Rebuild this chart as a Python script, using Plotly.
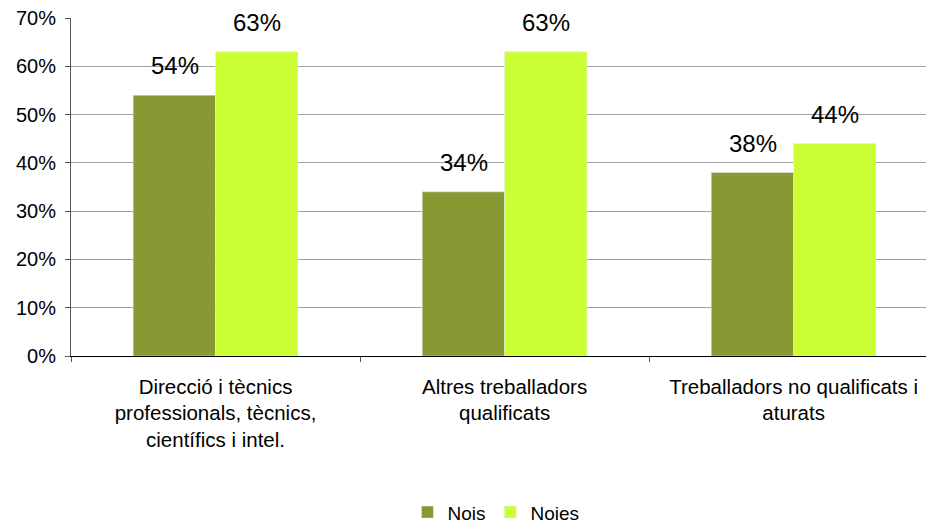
import plotly.graph_objects as go

categories = ["Direcció i tècnics<br>professionals, tècnics,<br>científics i intel.",
              "Altres treballadors<br>qualificats",
              "Treballadors no qualificats i<br>aturats"]
nois = [0.54, 0.34, 0.38]
noies = [0.63, 0.63, 0.44]
tick_vals = [0, 0.1, 0.2, 0.3, 0.4, 0.5, 0.6, 0.7]
tick_text = ["0%", "10%", "20%", "30%", "40%", "50%", "60%", "70%"]

FONT = "Liberation Sans, Arial, sans-serif"
BAR_PX = 82  # approximate bar width in pixels, used for label offsets

fig = go.Figure()
fig.add_bar(x=categories, y=nois, name="Nois", marker_color="#889933")
fig.add_bar(x=categories, y=noies, name="Noies", marker_color="#CCFF33")

for series, sign in ((nois, -1), (noies, 1)):
    for c, v in zip(categories, series):
        fig.add_annotation(x=c, y=v, xref="x", yref="y", text=f"{round(v*100)}%",
                           showarrow=False, yanchor="bottom", xanchor="center",
                           xshift=sign * BAR_PX / 2, yshift=14,
                           font=dict(size=24, color="#000000", family=FONT))

fig.update_layout(
    width=926, height=527,
    margin=dict(l=71, r=0, t=18, b=171),
    paper_bgcolor="white", plot_bgcolor="white",
    barmode="group", bargap=0.43, bargroupgap=0,
    font=dict(family=FONT, color="#000000", size=19),
    showlegend=True,
    legend=dict(orientation="h", x=0.497, xanchor="center",
                yref="container", y=0.028, yanchor="middle",
                font=dict(size=19), traceorder="normal", itemwidth=30),
)
fig.update_xaxes(range=[-0.5, 2.458], showline=True, linecolor="#000000", linewidth=1,
                 ticks="outside", tickson="boundaries", ticklen=5, tickcolor="#555555",
                 tickfont=dict(size=20.5), showgrid=False, automargin=False,
                 ticklabelstandoff=12)
fig.update_yaxes(range=[0, 0.7], tickvals=tick_vals, ticktext=tick_text,
                 showline=True, linecolor="#555555", linewidth=1,
                 ticks="outside", ticklen=5, tickcolor="#555555",
                 gridcolor="#a0a0a0", gridwidth=1, tickfont=dict(size=20),
                 zeroline=False, automargin=False, ticklabelstandoff=5)

fig.write_html("out.html", config={"displayModeBar": False},
               post_script="document.body.style.margin='0';document.body.style.padding='0';document.body.style.overflow='hidden';")
